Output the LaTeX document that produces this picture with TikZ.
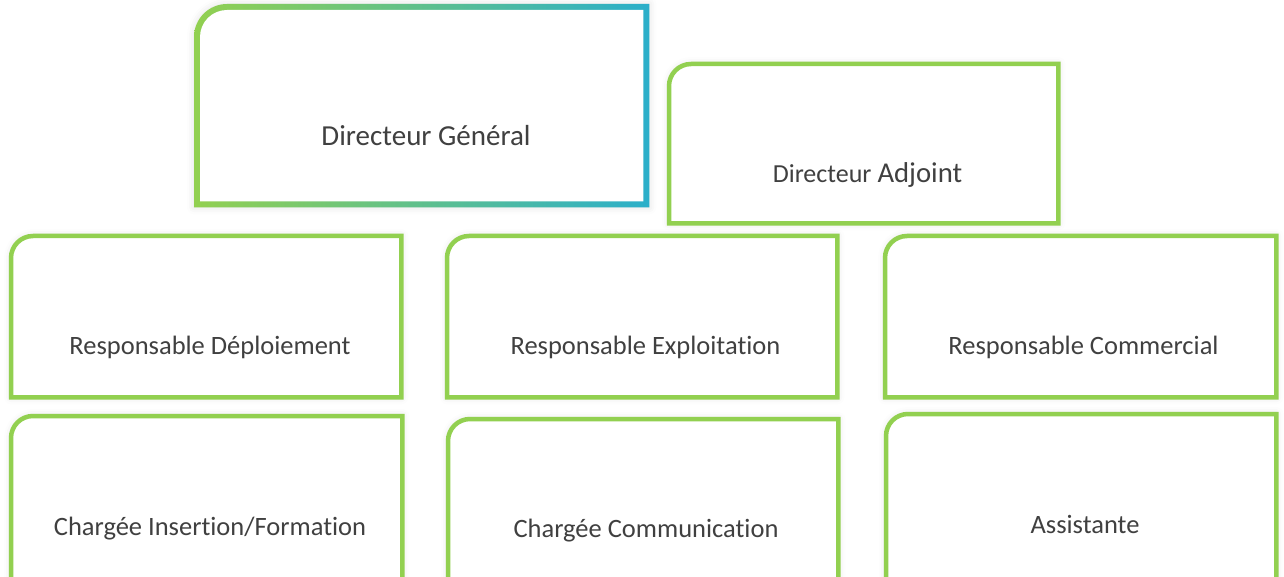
\documentclass[tikz,border=0pt]{standalone}
\usepackage{fontspec}
\setmainfont[RawFeature={-liga;-clig;-calt;-dlig;-rlig}]{Carlito}
\usetikzlibrary{shadows.blur}
\definecolor{lgreen}{HTML}{92D050}
\definecolor{lteal}{HTML}{2BAFCA}
\definecolor{txt}{HTML}{404040}
\newcommand\tlbox[2]{(#1.south west) -- (#1.south east) -- (#1.north east) -- ([xshift=#2]#1.north west) arc[start angle=90,end angle=180,radius=#2] -- cycle}
\newcommand\nti{t\kern0pt i}
\tikzset{
  frame/.style={draw=none, inner sep=0pt, anchor=north west},
  border/.style={draw=lgreen, line width=4.5pt, fill=white,
    blur shadow={shadow xshift=0pt, shadow yshift=0pt, shadow blur radius=7pt, shadow opacity=12}},
  lbl/.style={text=txt, inner sep=0pt, anchor=base, font=\fontsize{26.5}{30}\selectfont},
}
\begin{document}
\begin{tikzpicture}[x=1pt,y=1pt]
\useasboundingbox (0,0) rectangle (1284,-577);
% frames (outer geometry by stroke centre)
\node[frame, minimum width=449pt, minimum height=197pt] (dg) at (197,-7) {};
\node[frame, minimum width=443pt, minimum height=191pt] (dgin) at (200,-10) {};
\node[frame, minimum width=389pt, minimum height=159pt] (da) at (669,-64) {};
\node[frame, minimum width=390pt, minimum height=161pt] (rd) at (11,-236) {};
\node[frame, minimum width=390pt, minimum height=161pt] (re) at (447,-236) {};
\node[frame, minimum width=391pt, minimum height=161pt] (rc) at (885,-236) {};
\node[frame, minimum width=391pt, minimum height=170pt] (cif) at (11,-416) {};
\node[frame, minimum width=390pt, minimum height=170pt] (cc) at (448,-419) {};
\node[frame, minimum width=390pt, minimum height=170pt] (as) at (886,-414) {};
% borders
\shade[left color=lgreen, right color=lteal,
  blur shadow={shadow xshift=0pt, shadow yshift=0pt, shadow blur radius=7pt, shadow opacity=12}]
  ([xshift=-3pt,yshift=-3pt]dg.south west) -- ([xshift=3pt,yshift=-3pt]dg.south east) -- ([xshift=3pt,yshift=3pt]dg.north east) -- ([xshift=30pt,yshift=3pt]dg.north west) arc[start angle=90,end angle=180,radius=33pt] -- cycle;
\fill[white] (dgin.south west) -- (dgin.south east) -- (dgin.north east) -- ([xshift=27pt]dgin.north west) arc[start angle=90,end angle=180,radius=27pt] -- cycle;
\draw[border] \tlbox{da}{22pt};
\draw[border] \tlbox{rd}{22pt};
\draw[border] \tlbox{re}{22pt};
\draw[border] \tlbox{rc}{22pt};
\draw[border] \tlbox{cif}{22pt};
\draw[border] \tlbox{cc}{22pt};
\draw[border] \tlbox{as}{22pt};
% labels
\node[lbl, font=\fontsize{29}{32}\selectfont] (tdg) at (426,-146) {Directeur Général};
\node[lbl] (tda) at (867.5,-183) {{\fontsize{26}{30}\selectfont Directeur} {\fontsize{28.7}{32}\selectfont Adjoint}};
\node[lbl] (trd) at (210,-354) {Responsable Déploiement};
\node[lbl] (tre) at (645.5,-354) {Responsable Exploita\nti on};
\node[lbl] (trc) at (1083.5,-354) {Responsable Commercial};
\node[lbl] (tcif) at (210,-535) {Chargée Inser\nti on/Formation};
\node[lbl] (tcc) at (646,-537) {Chargée Communica\nti on};
\node[lbl] (tas) at (1085,-533) {Assistante};
\end{tikzpicture}
\end{document}
